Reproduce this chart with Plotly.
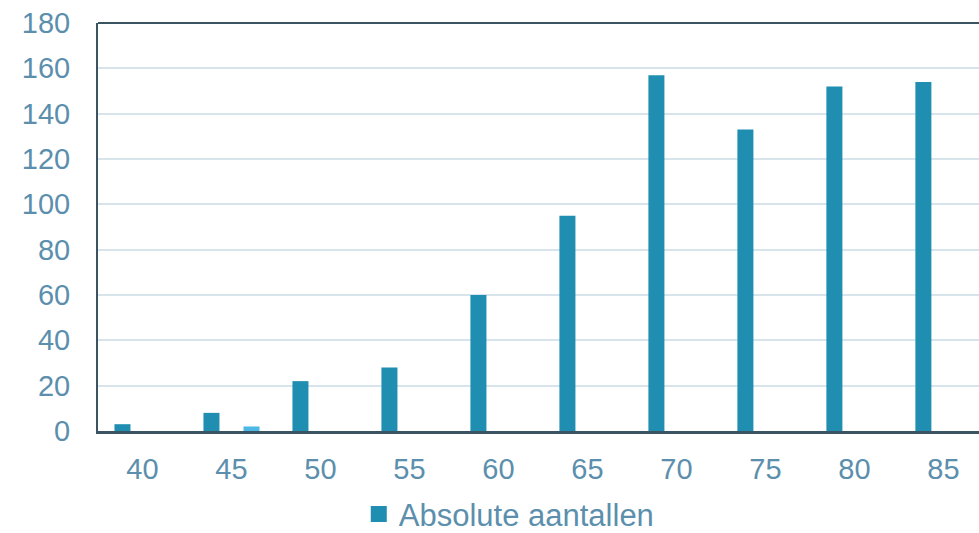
import plotly.graph_objects as go

# Leeftijdscategorieën en aantallen
ages = ["40", "45", "50", "55", "60", "65", "70", "75", "80", "85"]
absolute = [3, 8, 22, 28, 60, 95, 157, 133, 152, 154]
secondary = [None, 2, None, None, None, None, None, None, None, None]

y_ticks = [0, 20, 40, 60, 80, 100, 120, 140, 160, 180]

DARK = "#1F8EB0"
LIGHT = "#4DB8E4"
AXIS = "#3A5462"
LABEL = "#5B8FAD"
GRID = "#D8E4EC"
FONT = "Liberation Sans, Arial, sans-serif"

fig = go.Figure()
fig.add_trace(go.Bar(
    x=ages, y=absolute, name="Absolute aantallen", showlegend=False,
    legendgroup="abs", marker=dict(color=DARK, line=dict(width=0)),
))
fig.add_trace(go.Bar(
    x=ages, y=secondary, name="Overig", showlegend=False,
    marker=dict(color=LIGHT, line=dict(width=0)),
))
# legend entry with a larger square swatch
fig.add_trace(go.Scatter(
    x=[ages[0]], y=[None], mode="markers", name="Absolute aantallen",
    legendgroup="abs", marker=dict(symbol="square", size=16, color=DARK),
))

fig.update_layout(
    width=979, height=533,
    margin=dict(l=98, r=0, t=23, b=102, autoexpand=False),
    paper_bgcolor="white", plot_bgcolor="white",
    barmode="group", bargap=0.10, bargroupgap=0.6,
    font=dict(family=FONT, color=LABEL, size=29),
    showlegend=True,
    legend=dict(
        orientation="h", x=0.296, xanchor="left", y=-0.204, yanchor="middle",
        font=dict(size=31, color=LABEL), itemsizing="trace",
        bgcolor="rgba(0,0,0,0)",
    ),
    xaxis=dict(
        type="category", range=[-0.5, 9.4],
        showline=True, linecolor=AXIS, linewidth=3,
        showgrid=False, ticks="", ticklabelstandoff=10,
        tickfont=dict(size=29, color=LABEL),
    ),
    yaxis=dict(
        range=[0, 180], tickvals=y_ticks,
        showline=True, linecolor=AXIS, linewidth=2,
        showgrid=True, gridcolor=GRID, gridwidth=2,
        zeroline=False, ticks="", ticklabelstandoff=20,
        tickfont=dict(size=29, color=LABEL),
    ),
    shapes=[dict(
        type="line", xref="paper", yref="paper", x0=0, x1=1, y0=1, y1=1,
        line=dict(color=AXIS, width=2), layer="above",
    )],
)

fig.write_html("out.html")
